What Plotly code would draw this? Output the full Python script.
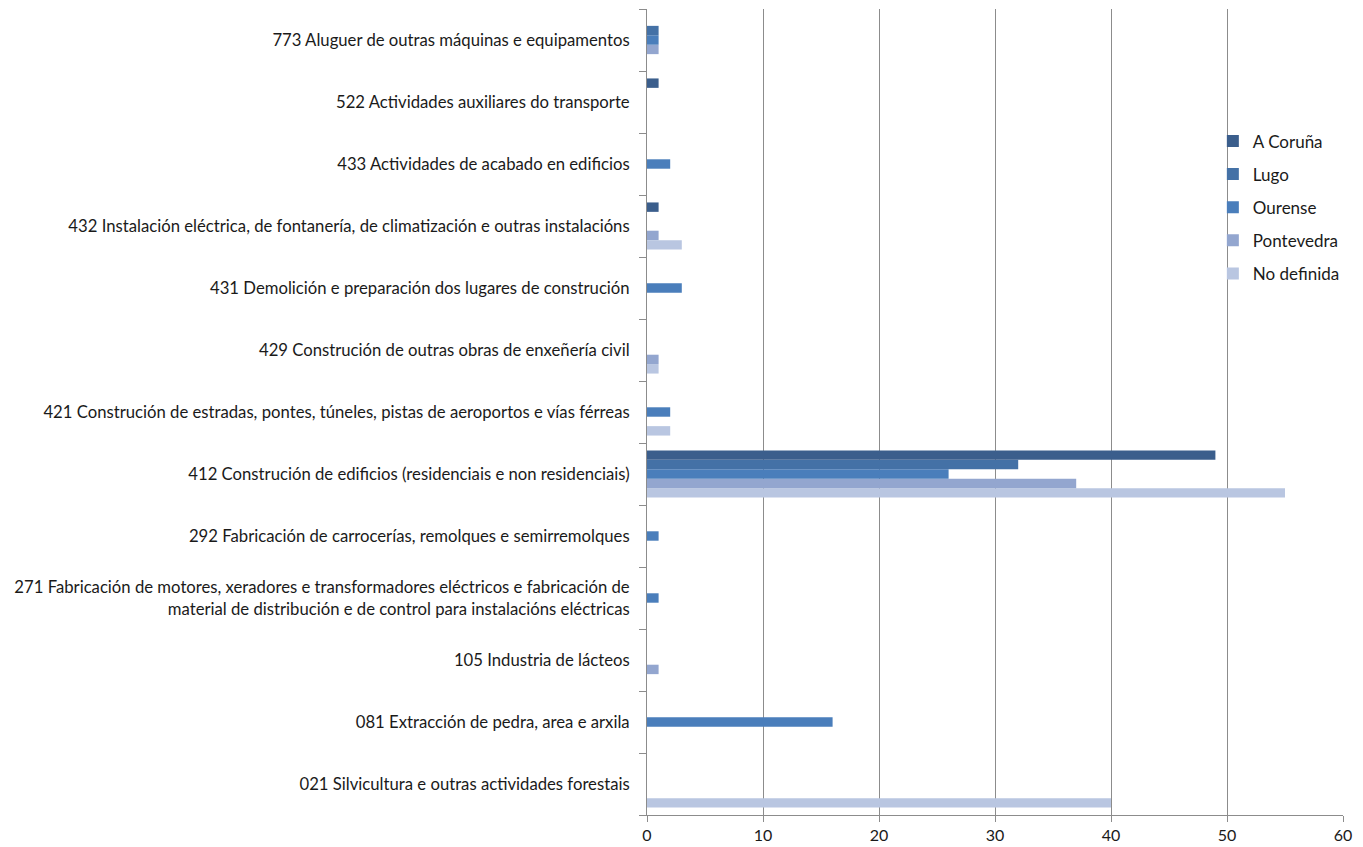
import plotly.graph_objects as go

categories = [
    "021 Silvicultura e outras actividades forestais",
    "081 Extracción de pedra, area e arxila",
    "105 Industria de lácteos",
    "271 Fabricación de motores, xeradores e transformadores eléctricos e fabricación de<br>material de distribución e de control para instalacións eléctricas",
    "292 Fabricación de carrocerías, remolques e semirremolques",
    "412 Construción de edificios (residenciais e non residenciais)",
    "421 Construción de estradas, pontes, túneles, pistas de aeroportos e vías férreas",
    "429 Construción de outras obras de enxeñería civil",
    "431 Demolición e preparación dos lugares de construción",
    "432 Instalación eléctrica, de fontanería, de climatización e outras instalacións",
    "433 Actividades de acabado en edificios",
    "522 Actividades auxiliares do transporte",
    "773 Aluguer de outras máquinas e equipamentos",
]

a_coruna   = [0, 0, 0, 0, 0, 49, 0, 0, 0, 1, 0, 1, 0]
lugo       = [0, 0, 0, 0, 0, 32, 0, 0, 0, 0, 0, 0, 1]
ourense    = [0, 16, 0, 1, 1, 26, 2, 0, 3, 0, 2, 0, 1]
pontevedra = [0, 0, 1, 0, 0, 37, 0, 1, 0, 1, 0, 0, 1]
no_definida = [40, 0, 0, 0, 0, 55, 2, 1, 0, 3, 0, 0, 0]

# drawn bottom-to-top within each group; legend ranks put A Coruña first
series = [
    ("No definida", no_definida, "#B9C6E1", 5),
    ("Pontevedra", pontevedra, "#93A6CF", 4),
    ("Ourense", ourense, "#4A7EBB", 3),
    ("Lugo", lugo, "#4471A6", 2),
    ("A Coruña", a_coruna, "#3B5E8C", 1),
]

font = "Lato, 'Open Sans', sans-serif"
fig = go.Figure()
for name, vals, color, rank in series:
    fig.add_trace(go.Bar(
        y=categories, x=vals, name=name, orientation="h",
        marker=dict(color=color, line=dict(width=0)),
        legendgroup=name, legendrank=rank,
    ))

# the page body has an 8px margin, so the figure is sized/offset to compensate
fig.update_layout(
    width=1355, height=839,
    margin=dict(l=639, r=20, t=1, b=32, autoexpand=False),
    barmode="group", bargap=0.24, bargroupgap=0,
    plot_bgcolor="white", paper_bgcolor="white",
    font=dict(family=font, size=16.7, color="#1a1a1a"),
    legend=dict(
        x=0.813, y=0.858, xanchor="left", yanchor="top",
        traceorder="grouped", tracegroupgap=8,
        font=dict(size=17, color="#1a1a1a"),
        bgcolor="rgba(255,255,255,0)", itemwidth=30,
    ),
    xaxis=dict(
        range=[0, 60], dtick=10, showgrid=True, gridcolor="#8c8c8c", gridwidth=1,
        showline=True, linecolor="#8c8c8c", ticks="outside", ticklen=6,
        tickcolor="#8c8c8c", zeroline=False, fixedrange=True,
        tickfont=dict(size=16), automargin=False,
    ),
    yaxis=dict(
        showline=True, linecolor="#8c8c8c", ticks="outside", ticklen=7,
        tickcolor="#8c8c8c", tickson="boundaries", showgrid=False,
        tickfont=dict(size=16.7), ticklabelstandoff=13, automargin=False,
    ),
)

fig.write_html("out.html")
